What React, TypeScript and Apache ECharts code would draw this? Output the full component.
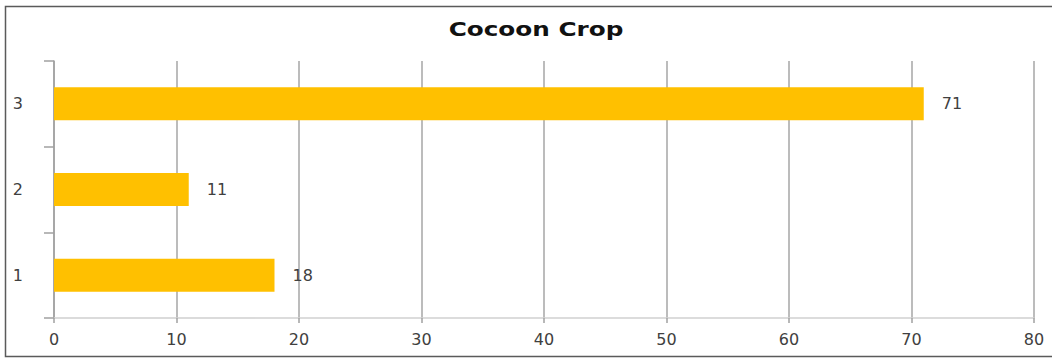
import React, { useEffect, useRef } from "react";
import * as echarts from "echarts";

const titleText = "Cocoon Crop";
const categories = ["1", "2", "3"];
const values = [18, 11, 71];
const xMin = 0;
const xMax = 80;
const xInterval = 10;

export default function App() {
  const ref = useRef<HTMLDivElement>(null);
  useEffect(() => {
    if (!ref.current) return;
    const chart = echarts.init(ref.current, null, { renderer: "svg" });
    const font = "'DejaVu Sans', Verdana, sans-serif";
    chart.setOption({
      animation: false,
      backgroundColor: "#ffffff",
      graphic: [
        {
          type: "rect",
          shape: { x: 5.5, y: 6.5, width: 1060, height: 350 },
          style: { fill: "none", stroke: "#5a5a5a", lineWidth: 1.5 },
          silent: true,
        },
        {
          type: "text",
          x: 536,
          y: 30,
          scaleX: 1.3,
          style: {
            text: titleText,
            font: "bold 19px " + font,
            fill: "#111111",
            textAlign: "center",
            textVerticalAlign: "middle",
          },
        },
      ],
      grid: { left: 54, right: 18, top: 61, bottom: 40, containLabel: false },
      xAxis: {
        type: "value",
        min: xMin,
        max: xMax,
        interval: xInterval,
        axisLine: { show: true, lineStyle: { color: "#d0d0d0", width: 1.5 } },
        axisTick: { show: true, length: 5, lineStyle: { color: "#a0a0a0", width: 1.5 } },
        splitLine: { show: true, lineStyle: { color: "#a6a6a6", width: 1.5 } },
        axisLabel: { fontFamily: font, fontSize: 16, color: "#404040", margin: 13 },
      },
      yAxis: {
        type: "category",
        data: categories,
        axisLine: { show: true, lineStyle: { color: "#a0a0a0", width: 1.5 } },
        axisTick: { show: true, length: 10, lineStyle: { color: "#a0a0a0", width: 1.5 } },
        axisLabel: { fontFamily: font, fontSize: 16, color: "#404040", margin: 31 },
      },
      series: [
        {
          type: "bar",
          data: values,
          barWidth: 33,
          itemStyle: { color: "#FFC000" },
          label: {
            show: true,
            position: "right",
            distance: 18,
            fontFamily: font,
            fontSize: 16,
            color: "#404040",
          },
        },
      ],
    });
    return () => chart.dispose();
  }, []);
  return (
    <div
      ref={ref}
      style={{ position: "absolute", left: 0, top: 0, width: 1052, height: 358 }}
    />
  );
}
